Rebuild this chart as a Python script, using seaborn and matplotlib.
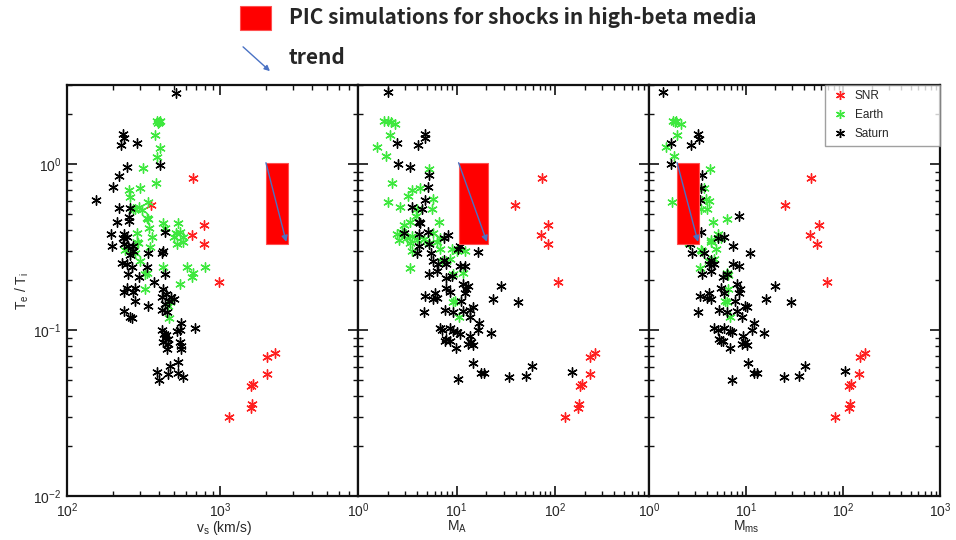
import matplotlib
matplotlib.use("Agg")
import matplotlib.pyplot as plt
from matplotlib.patches import Rectangle, FancyArrowPatch
from matplotlib.lines import Line2D
import matplotlib.ticker as mticker
import seaborn as sns
import pandas as pd

# ---------------- data ----------------
snr_te = [0.82, 0.57, 0.43, 0.376, 0.33, 0.194, 0.069, 0.073, 0.0545, 0.046, 0.047, 0.034, 0.036, 0.030]
snr_vs = [665, 354, 785, 656, 785, 980, 2040, 2290, 2040, 1590, 1650, 1600, 1620, 1140]
snr_ma = [74, 39, 85, 72, 85, 107, 224, 257, 224, 180, 186, 170, 174, 126]
snr_mms = [47, 25, 56, 46, 54, 69, 148, 167, 145, 116, 120, 115, 117, 82]

earth_vs = [390, 398, 405, 395, 376, 405, 390, 313, 382, 254, 300, 258, 280, 295, 310, 270, 338, 333,
            340, 343, 286, 425, 437, 530, 545, 520, 570, 500, 360, 286, 290, 240, 278, 350, 525, 570,
            300, 333, 325, 425, 610, 665, 655, 800, 545, 325, 470, 455, 465]
earth_vs_te = [1.83, 1.80, 1.82, 1.78, 1.49, 1.26, 1.10, 0.95, 0.77, 0.70, 0.72, 0.635, 0.54, 0.55, 0.53,
               0.535, 0.59, 0.475, 0.47, 0.41, 0.385, 0.44, 0.41, 0.44, 0.39, 0.385, 0.365, 0.365, 0.365,
               0.34, 0.335, 0.305, 0.29, 0.315, 0.33, 0.34, 0.26, 0.22, 0.217, 0.24, 0.24, 0.22, 0.21,
               0.24, 0.19, 0.176, 0.147, 0.139, 0.118]

saturn_vs = [515, 232, 236, 225, 286, 405, 247, 219, 200, 155, 219, 258, 254, 254, 212, 194, 236, 232,
             247, 437, 197, 236, 250, 270, 258, 270, 338, 417, 425, 230, 248, 265, 333, 250, 295, 437,
             372, 247, 236, 278, 270, 278, 338, 236, 258, 265, 425, 445, 465, 417, 437, 480, 500, 417,
             450, 420, 430, 440, 455, 445, 425, 460, 450, 525, 545, 560, 687, 545, 560, 560, 470, 530,
             390, 455, 530, 570, 400]
saturn_vs_te = [2.7, 1.51, 1.43, 1.30, 1.35, 0.986, 0.96, 0.85, 0.73, 0.61, 0.545, 0.545, 0.48, 0.455,
                0.45, 0.38, 0.38, 0.36, 0.365, 0.39, 0.32, 0.33, 0.32, 0.32, 0.285, 0.30, 0.29, 0.29,
                0.30, 0.255, 0.25, 0.24, 0.24, 0.217, 0.21, 0.217, 0.194, 0.18, 0.17, 0.18, 0.17, 0.15,
                0.14, 0.13, 0.12, 0.118, 0.176, 0.164, 0.15, 0.158, 0.143, 0.158, 0.153, 0.133, 0.128,
                0.10, 0.095, 0.09, 0.088, 0.094, 0.085, 0.083, 0.077, 0.099, 0.10, 0.11, 0.103, 0.085,
                0.08, 0.077, 0.061, 0.064, 0.056, 0.054, 0.055, 0.052, 0.05]

earth_ma = [1.85, 2.0, 2.15, 2.36, 2.1, 1.56, 1.92, 5.2, 2.19, 4.3, 3.55, 3.2, 5.75, 2.0, 2.67, 5.6, 3.98,
            3.9, 6.6, 3.4, 2.93, 2.5, 2.8, 3.16, 3.55, 3.98, 4.64, 5.83, 6.8, 2.6, 3.4, 3.55, 5.2, 6.3,
            6.8, 8.9, 10, 12.1, 8.6, 3.4, 9.3, 11.7, 9.3, 9.6, 10.6, 7.1]
earth_ma_te = [1.81, 1.83, 1.79, 1.75, 1.49, 1.27, 1.12, 0.94, 0.77, 0.715, 0.70, 0.64, 0.62, 0.595, 0.555,
               0.54, 0.54, 0.485, 0.45, 0.45, 0.43, 0.38, 0.39, 0.36, 0.37, 0.35, 0.355, 0.385, 0.36,
               0.35, 0.335, 0.30, 0.335, 0.34, 0.31, 0.31, 0.30, 0.30, 0.27, 0.237, 0.217, 0.22, 0.148,
               0.15, 0.12, 0.26]

saturn_ma = [2.04, 2.47, 4.04, 4.75, 4.8, 2.57, 3.36, 5.2, 5.1, 4.8, 3.55, 4.47, 4.2, 4.3, 2.93, 4.14, 5.1,
             7.4, 8.25, 4.14, 3.98, 5.2, 5.5, 10.8, 10.4, 16.5, 5.8, 6.5, 7.4, 7.9, 10.8, 12.1, 5.2, 6.3,
             7.9, 8.9, 11.7, 12.6, 12.2, 13.1, 7.9, 8.6, 28.2, 23.3, 41.7, 4.8, 6.0, 6.3, 5.8, 11.2, 14.7,
             13.6, 7.6, 9.3, 11.7, 4.64, 13.6, 17.1, 16.5, 22.4, 6.8, 7.1, 8.6, 9.3, 10, 10.8, 7.9, 8.6,
             7.6, 13.6, 14.1, 14.7, 13.1, 9.8, 14.7, 17.8, 19.2, 10.4, 34, 51, 58, 148]
saturn_ma_te = [2.71, 1.35, 1.30, 1.51, 1.43, 1.0, 0.96, 0.86, 0.73, 0.61, 0.55, 0.54, 0.45, 0.445, 0.386,
                0.38, 0.39, 0.36, 0.375, 0.32, 0.29, 0.33, 0.29, 0.32, 0.31, 0.295, 0.26, 0.25, 0.265,
                0.25, 0.245, 0.243, 0.217, 0.227, 0.207, 0.213, 0.19, 0.176, 0.168, 0.184, 0.18, 0.17,
                0.184, 0.155, 0.148, 0.16, 0.168, 0.157, 0.153, 0.15, 0.137, 0.133, 0.133, 0.128, 0.13,
                0.128, 0.12, 0.11, 0.1, 0.096, 0.103, 0.1, 0.103, 0.099, 0.097, 0.095, 0.088, 0.086,
                0.086, 0.092, 0.085, 0.081, 0.083, 0.078, 0.063, 0.055, 0.055, 0.051, 0.052, 0.053,
                0.061, 0.056]

earth_mms = [1.77, 1.92, 2.12, 1.85, 1.95, 1.48, 1.8, 4.27, 1.74, 3.7, 3.85, 4.0, 3.4, 4.2, 4.6, 6.4, 5.1,
             5.55, 4.35, 2.6, 3.4, 4.35, 4.9, 4.7, 4.17, 3.55, 3.35, 6.3, 6.6, 6.55, 6.4, 6.1, 6.8]
earth_mms_te = [1.81, 1.83, 1.75, 1.79, 1.49, 1.27, 1.12, 0.94, 0.595, 0.715, 0.62, 0.54, 0.54, 0.60, 0.45,
                0.47, 0.38, 0.36, 0.35, 0.335, 0.305, 0.34, 0.31, 0.27, 0.26, 0.30, 0.237, 0.22, 0.215,
                0.176, 0.148, 0.15, 0.12]

saturn_mms = [1.39, 1.70, 2.73, 3.2, 3.27, 1.70, 3.55, 3.46, 3.35, 8.5, 3.4, 5.1, 5.9, 2.66, 2.77, 3.7,
              4.35, 4.7, 4.17, 7.4, 11.1, 7.4, 8.5, 3.55, 4.35, 5.8, 6.3, 8.0, 8.7, 8.5, 5.55, 6.0, 19.7,
              16.1, 28.9, 3.35, 4.17, 4.35, 4.0, 7.7, 10.2, 9.8, 5.33, 6.3, 8.0, 3.19, 9.2, 12.1, 11.6,
              15.4, 4.7, 5.1, 6.0, 6.8, 7.1, 5.33, 5.8, 5.55, 9.4, 9.8, 10.2, 9.1, 6.8, 10.5, 12.1, 13.1,
              7.2, 24.6, 34.9, 41, 105]
saturn_mms_te = [2.71, 1.35, 1.30, 1.51, 1.42, 1.0, 0.86, 0.72, 0.61, 0.49, 0.39, 0.36, 0.365, 0.33, 0.29,
                 0.29, 0.265, 0.25, 0.25, 0.32, 0.29, 0.25, 0.243, 0.217, 0.227, 0.21, 0.217, 0.19, 0.176,
                 0.168, 0.18, 0.168, 0.184, 0.155, 0.148, 0.16, 0.168, 0.153, 0.157, 0.15, 0.137, 0.14,
                 0.133, 0.128, 0.13, 0.128, 0.12, 0.11, 0.1, 0.096, 0.103, 0.1, 0.103, 0.099, 0.097,
                 0.088, 0.086, 0.086, 0.092, 0.085, 0.081, 0.083, 0.078, 0.063, 0.055, 0.055, 0.05,
                 0.052, 0.053, 0.061, 0.057]

# PIC simulation boxes: (x0, x1) per panel, (y0, y1)
pic_vs = (2000, 2800)
pic_ma = (10.5, 21)
pic_mms = (1.95, 3.3)
pic_te = (0.33, 1.02)

xlims = [(100, 8000), (1, 900), (1, 1000)]
xlabels = ["v$_\\mathregular{s}$ (km/s)", "M$_\\mathregular{A}$", "M$_\\mathregular{ms}$"]
group_names = ["SNR", "Earth", "Saturn"]
group_colors = {"SNR": "#ff2020", "Earth": "#3ee83e", "Saturn": "#000000"}

# ---------------- style ----------------
sns.set_style("ticks")
plt.rcParams["font.family"] = ["Liberation Sans", "DejaVu Sans"]
plt.rcParams["mathtext.fontset"] = "custom"
plt.rcParams["mathtext.rm"] = "Liberation Sans"
plt.rcParams["mathtext.it"] = "Liberation Sans"

fig = plt.figure(figsize=(9.56, 5.4), dpi=100)
L, R, B, T = 67 / 956, 940 / 956, 1 - 496 / 540, 1 - 85 / 540
W = (R - L) / 3
axes = [fig.add_axes([L + i * W, B, W, T - B]) for i in range(3)]

panels = [
    [(snr_vs, snr_te), (earth_vs, earth_vs_te), (saturn_vs, saturn_vs_te)],
    [(snr_ma, snr_te), (earth_ma, earth_ma_te), (saturn_ma, saturn_ma_te)],
    [(snr_mms, snr_te), (earth_mms, earth_mms_te), (saturn_mms, saturn_mms_te)],
]
pics = [pic_vs, pic_ma, pic_mms]
marker = (6, 2, 0)

for i, ax in enumerate(axes):
    ax.set_xscale("log")
    ax.set_yscale("log")
    for name, (xs, ys) in zip(group_names, panels[i]):
        df = pd.DataFrame({"x": xs, "y": ys})
        sns.scatterplot(data=df, x="x", y="y", ax=ax, marker=marker, s=46,
                        color=group_colors[name], edgecolor=group_colors[name],
                        linewidth=1.0, legend=False, zorder=3)
    x0, x1 = pics[i]
    y0, y1 = pic_te
    ax.add_patch(Rectangle((x0, y0), x1 - x0, y1 - y0, facecolor="#ff0000",
                           edgecolor="#ff5050", linewidth=0.8, zorder=5))
    ax.annotate("", xy=(x1 * 0.97, y0 * 1.03), xytext=(x0, y1),
                arrowprops=dict(arrowstyle="-|>", color="#4a72c4", lw=1.0,
                                mutation_scale=9, shrinkA=0, shrinkB=0), zorder=6)
    ax.set_xlim(*xlims[i])
    ax.set_ylim(0.01, 3.0)
    ax.set_xlabel(xlabels[i], fontsize=10, labelpad=1)
    ax.set_ylabel("")
    ax.tick_params(which="both", direction="in", top=True, right=True,
                   labelsize=10, pad=4, color="#111111")
    ax.tick_params(which="major", length=7, width=1.2)
    ax.tick_params(which="minor", length=3.5, width=1.0)
    ax.xaxis.set_major_locator(mticker.LogLocator(base=10, numticks=10))
    ax.xaxis.set_minor_locator(mticker.LogLocator(base=10, subs=range(2, 10), numticks=20))
    ax.xaxis.set_major_formatter(mticker.LogFormatterMathtext())
    ax.xaxis.set_minor_formatter(mticker.NullFormatter())
    ax.yaxis.set_major_locator(mticker.LogLocator(base=10, numticks=10))
    ax.yaxis.set_minor_locator(mticker.LogLocator(base=10, subs=range(2, 10), numticks=20))
    ax.yaxis.set_major_formatter(mticker.LogFormatterMathtext())
    ax.yaxis.set_minor_formatter(mticker.NullFormatter())
    for sp in ax.spines.values():
        sp.set_linewidth(1.6)
        sp.set_color("#111111")
    if i > 0:
        ax.tick_params(labelleft=False)

axes[0].xaxis.set_label_coords(0.54, -0.055)
axes[1].xaxis.set_label_coords(0.34, -0.055)
axes[2].xaxis.set_label_coords(0.335, -0.055)
axes[0].set_ylabel("T$_\\mathregular{e}$ / T$_\\mathregular{i}$", fontsize=10, labelpad=2)

handles = [Line2D([], [], linestyle="none", marker=marker, markersize=6.5,
                  markeredgewidth=1.0, color=group_colors[n]) for n in group_names]
leg = axes[2].legend(handles, group_names, loc="upper right",
                     bbox_to_anchor=(0.604, 0.0, 0.396, 1.0), mode="expand",
                     fontsize=8.5, frameon=True, fancybox=False, borderaxespad=0.0,
                     handletextpad=0.5, labelspacing=0.6, borderpad=0.45,
                     handlelength=1.6)
leg.get_frame().set_edgecolor("#888888")
leg.get_frame().set_linewidth(1.0)

# top legend
fig.patches.append(Rectangle((240 / 956, 1 - 30 / 540), 31 / 956, 24 / 540,
                             transform=fig.transFigure, facecolor="#ff0000",
                             edgecolor="#ff5050", linewidth=0.8))
fig.text(289 / 956, 1 - 18 / 540, "PIC simulations for shocks in high-beta media",
         fontsize=15, fontweight="bold", va="center", ha="left",
         family=["Noto Sans CJK KR", "DejaVu Sans"])
fig.text(289 / 956, 1 - 57 / 540, "trend", fontsize=15, fontweight="bold",
         va="center", ha="left", family=["Noto Sans CJK KR", "DejaVu Sans"])
fig.add_artist(FancyArrowPatch(
    (241 / 956, 1 - 45 / 540), (272 / 956, 1 - 73 / 540), transform=fig.transFigure,
    arrowstyle="-|>", mutation_scale=8, color="#4a72c4", lw=1.0))

fig.savefig("out.png", dpi=100)
